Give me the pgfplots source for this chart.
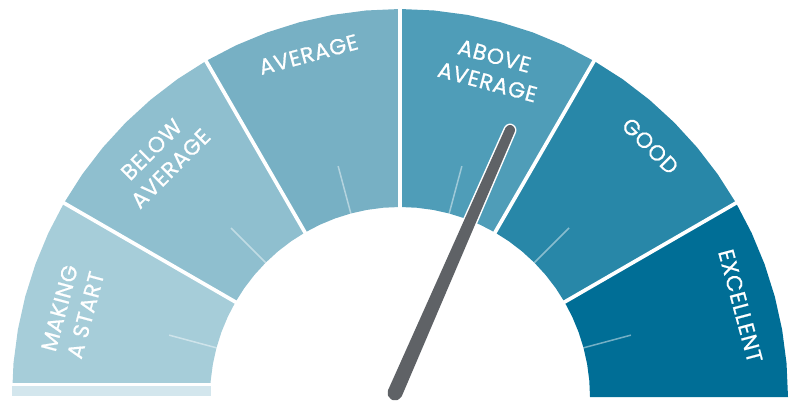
\documentclass[border=0pt]{standalone}
\usepackage{pgfplots}
\pgfplotsset{compat=1.18}
\usepackage{fontspec}
\setmainfont{Poppins}
\newfontfamily\lblfont{Poppins}[FakeBold=0.7, LetterSpace=3]
\definecolor{cA}{RGB}{166,205,217}
\definecolor{cB}{RGB}{143,191,207}
\definecolor{cC}{RGB}{119,176,196}
\definecolor{cD}{RGB}{79,157,184}
\definecolor{cE}{RGB}{40,135,168}
\definecolor{cF}{RGB}{0,110,150}
\definecolor{cStrip}{RGB}{211,230,237}
\definecolor{needle}{RGB}{95,98,102}
\tikzset{lbl/.style={text=white, font=\lblfont\fontsize{11}{13.5}\selectfont, align=center, inner sep=0pt}}
\begin{document}
\begin{tikzpicture}
\begin{axis}[
  x=0.5pt, y=0.5pt,
  xmin=-400, xmax=395, ymin=-4, ymax=397,
  axis line style={draw=none},
  xtick=\empty, ytick=\empty,
  clip=true,
]
% gauge bands (angle, radius)
\addplot[fill=cA, draw=none, data cs=polar] coordinates {(180,388) (175,388) (170,388) (165,388) (160,388) (155,388) (150,388) (150,190) (155,190) (160,190) (165,190) (170,190) (175,190) (180,190)};
\addplot[fill=cB, draw=none, data cs=polar] coordinates {(150,388) (145,388) (140,388) (135,388) (130,388) (125,388) (120,388) (120,190) (125,190) (130,190) (135,190) (140,190) (145,190) (150,190)};
\addplot[fill=cC, draw=none, data cs=polar] coordinates {(120,388) (115,388) (110,388) (105,388) (100,388) (95,388) (90,388) (90,190) (95,190) (100,190) (105,190) (110,190) (115,190) (120,190)};
\addplot[fill=cD, draw=none, data cs=polar] coordinates {(90,388) (85,388) (80,388) (75,388) (70,388) (65,388) (60,388) (60,190) (65,190) (70,190) (75,190) (80,190) (85,190) (90,190)};
\addplot[fill=cE, draw=none, data cs=polar] coordinates {(60,388) (55,388) (50,388) (45,388) (40,388) (35,388) (30,388) (30,190) (35,190) (40,190) (45,190) (50,190) (55,190) (60,190)};
\addplot[fill=cF, draw=none, data cs=polar] coordinates {(30,388) (25,388) (20,388) (15,388) (10,388) (5,388) (0,388) (0,190) (5,190) (10,190) (15,190) (20,190) (25,190) (30,190)};
% separators
\addplot[white, line width=1.85pt, data cs=polar] coordinates {(150,185) (150,395)};
\addplot[white, line width=1.85pt, data cs=polar] coordinates {(120,185) (120,395)};
\addplot[white, line width=1.85pt, data cs=polar] coordinates {(90,185) (90,395)};
\addplot[white, line width=1.85pt, data cs=polar] coordinates {(60,185) (60,395)};
\addplot[white, line width=1.85pt, data cs=polar] coordinates {(30,185) (30,395)};
% minor ticks
\addplot[white, opacity=0.45, line width=0.75pt, data cs=polar] coordinates {(165,190) (165,239)};
\addplot[white, opacity=0.45, line width=0.75pt, data cs=polar] coordinates {(135,190) (135,239)};
\addplot[white, opacity=0.45, line width=0.75pt, data cs=polar] coordinates {(105,190) (105,239)};
\addplot[white, opacity=0.45, line width=0.75pt, data cs=polar] coordinates {(75,190) (75,239)};
\addplot[white, opacity=0.45, line width=0.75pt, data cs=polar] coordinates {(45,190) (45,239)};
\addplot[white, opacity=0.45, line width=0.75pt, data cs=polar] coordinates {(15,190) (15,239)};
% bottom-left base strip
\addplot[fill=white, draw=none] coordinates {(-395,-4) (-186,-4) (-186,14) (-395,14)};
\addplot[fill=cStrip, draw=none] coordinates {(-387.7,1.3) (-189.3,1.3) (-189.3,11) (-387.7,11)};
% labels
\node[lbl, rotate=75] at (axis cs:-327.5,85.5) {MAKING\\A START};
\node[lbl, rotate=45] at (axis cs:-239.0,238.0) {BELOW\\AVERAGE};
\node[lbl, rotate=15] at (axis cs:-91.6,342.5) {AVERAGE};
\node[lbl, rotate=-15] at (axis cs:91.0,328.0) {ABOVE\\AVERAGE};
\node[lbl, rotate=-45] at (axis cs:250.3,251.0) {GOOD};
\node[lbl, rotate=-75] at (axis cs:340.5,91.0) {EXCELLENT};
% needle (tapered, rounded ends)
\addplot[fill=white, draw=white, line width=3.5pt, line join=round] coordinates {(-10.04,6.20) (107.25,268.20) (108.91,269.79) (111.20,269.75) (112.79,268.09) (112.75,265.80) (0.04,1.80) (-2.99,-1.12) (-7.20,-1.04) (-10.12,1.99)} -- cycle;
\addplot[fill=needle, draw=needle, line width=2pt, line join=round] coordinates {(-10.04,6.20) (107.25,268.20) (108.91,269.79) (111.20,269.75) (112.79,268.09) (112.75,265.80) (0.04,1.80) (-2.99,-1.12) (-7.20,-1.04) (-10.12,1.99)} -- cycle;
\end{axis}
\end{tikzpicture}
\end{document}
